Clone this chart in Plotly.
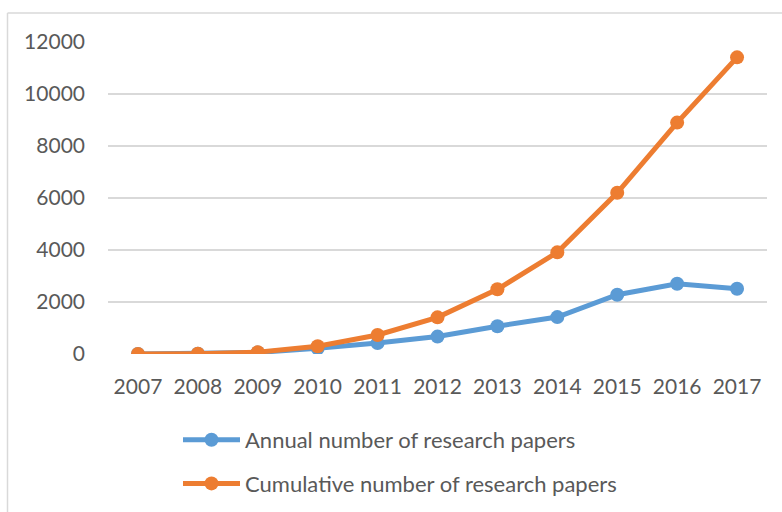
import plotly.graph_objects as go

years = ["2007", "2008", "2009", "2010", "2011", "2012", "2013", "2014", "2015", "2016", "2017"]
annual = [0, 10, 60, 220, 420, 670, 1070, 1420, 2280, 2700, 2510]
cumulative = [0, 10, 70, 300, 730, 1410, 2490, 3910, 6200, 8900, 11410]
y_ticks = [0, 2000, 4000, 6000, 8000, 10000, 12000]

BLUE = "#5B9BD5"
ORANGE = "#ED7D31"
TXT = "#595959"
GRID = "#D9D9D9"
FONT = "Lato, Carlito, Calibri, sans-serif"

W, H = 782, 512
L, R, T, B = 108, 15, 42, 158
pw, ph = W - L - R, H - T - B

fig = go.Figure()
fig.add_trace(go.Scatter(
    x=years, y=annual, mode="lines+markers", name="Annual number of research papers",
    line=dict(color=BLUE, width=5), marker=dict(color=BLUE, size=14),
    legendgroup="a",
))
fig.add_trace(go.Scatter(
    x=years, y=cumulative, mode="lines+markers", name="Cumulative number of research papers",
    line=dict(color=ORANGE, width=5), marker=dict(color=ORANGE, size=14),
    legendgroup="b",
))

def px_x(p):
    return (p - L) / pw

def px_y(p):
    return (H - B - p) / ph

fig.update_layout(
    width=W, height=H,
    margin=dict(l=L, r=R, t=T, b=B, pad=0, autoexpand=False),
    paper_bgcolor="white", plot_bgcolor="white",
    font=dict(family=FONT, size=21, color=TXT),
    showlegend=True,
    legend=dict(
        x=px_x(178), y=px_y(419), xanchor="left", yanchor="top",
        orientation="v", tracegroupgap=12, itemwidth=57,
        font=dict(family=FONT, size=22, color=TXT),
        bgcolor="rgba(0,0,0,0)",
    ),
    xaxis=dict(
        type="category", range=[-0.5, 10.5], showgrid=False, zeroline=False,
        showline=False, ticks="", ticklabelstandoff=18, automargin=False,
        tickfont=dict(family=FONT, size=21, color=TXT),
    ),
    yaxis=dict(
        range=[0, 12000], tickvals=y_ticks, ticktext=[str(v) for v in y_ticks],
        showgrid=True, gridcolor=GRID, gridwidth=1.5, zeroline=False,
        showline=False, ticks="", ticklabelstandoff=22, automargin=False,
        tickfont=dict(family=FONT, size=21, color=TXT),
    ),
    shapes=[
        dict(type="line", xref="paper", yref="paper", x0=px_x(7.5), x1=px_x(7.5),
             y0=px_y(13), y1=px_y(530), line=dict(color=GRID, width=1.5)),
        dict(type="line", xref="paper", yref="paper", x0=px_x(7.5), x1=px_x(800),
             y0=px_y(13), y1=px_y(13), line=dict(color=GRID, width=1.5)),
    ],
)

fig.write_html("out.html")
